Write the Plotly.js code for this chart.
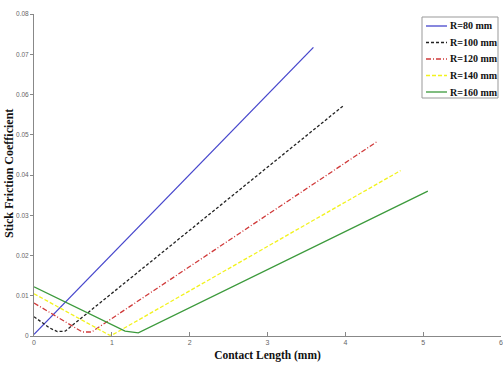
<!DOCTYPE html>
<html>
<head>
<meta charset="utf-8">
<script src="https://cdn.plot.ly/plotly-3.0.1.min.js"></script>
<style>html,body{margin:0;padding:0;background:#fff;}#chart{width:503px;height:367px;}</style>
</head>
<body>
<div id="chart"></div>
<script>
// Data
const seriesNames = ["R=80 mm", "R=100 mm", "R=120 mm", "R=140 mm", "R=160 mm"];
const x80  = [0, 3.59];
const y80  = [0.0004, 0.0717];
const x100 = [0, 0.1, 0.2, 0.3, 0.4, 3.98];
const y100 = [0.0048, 0.0033, 0.0020, 0.0011, 0.0012, 0.0573];
const x120 = [0, 0.62, 0.74, 4.40];
const y120 = [0.0082, 0.0010, 0.0010, 0.0482];
const x140 = [0, 0.97, 1.00, 4.71];
const y140 = [0.0105, 0.0002, 0.0002, 0.0411];
const x160 = [0, 1.17, 1.34, 5.06];
const y160 = [0.0122, 0.0012, 0.0008, 0.0360];
const yTickVals = [0, 0.01, 0.02, 0.03, 0.04, 0.05, 0.06, 0.07, 0.08];
const yTickText = ["0", "0.01", "0.02", "0.03", "0.04", "0.05", "0.06", "0.07", "0.08"];
const xTickVals = [0, 1, 2, 3, 4, 5, 6];
const xTitle = "Contact Length (mm)";
const yTitle = "Stick Friction Coefficient";

const xs = [x80, x100, x120, x140, x160];
const ys = [y80, y100, y120, y140, y160];
const colors = ["#4646cc", "#222222", "#d03a3a", "#f2f21e", "#3c9a3c"];
const dashes = ["solid", "3px,2px", "5px,2px,1px,2px", "4px,2px", "solid"];

const traces = seriesNames.map((n, i) => ({
  x: xs[i], y: ys[i], name: n, type: "scatter", mode: "lines",
  line: {color: colors[i], width: 1.3, dash: dashes[i]}
}));

// Compact legend box (MATLAB-style), placed in paper coordinates
const M = {l: 34, r: 2, t: 14, b: 31}, W = 503, H = 367;
const pw = W - M.l - M.r, ph = H - M.t - M.b;
const px = v => (v - M.l) / pw;
const py = v => (H - M.b - v) / ph;
const legRows = [26, 42.5, 59, 75.5, 92];
const shapes = [{
  type: "rect", xref: "paper", yref: "paper",
  x0: px(422), x1: px(498), y0: py(98), y1: py(17),
  line: {color: "#999", width: 1}, fillcolor: "#fff", layer: "above"
}];
const annotations = [{
  xref: "paper", yref: "paper", x: px(9), y: py(174),
  xanchor: "center", yanchor: "middle", textangle: -90, showarrow: false,
  text: yTitle,
  font: {family: "Liberation Serif", size: 12, color: "#111", weight: "bold"}
}];
seriesNames.forEach((n, i) => {
  shapes.push({
    type: "line", xref: "paper", yref: "paper", layer: "above",
    x0: px(426), x1: px(447), y0: py(legRows[i]), y1: py(legRows[i]),
    line: {color: colors[i], width: 1.3, dash: dashes[i]}
  });
  annotations.push({
    xref: "paper", yref: "paper", x: px(447.5), y: py(legRows[i]),
    xanchor: "left", yanchor: "middle", showarrow: false, text: n,
    font: {family: "Liberation Serif", size: 10, color: "#111", weight: "bold"}
  });
});

const layout = {
  width: W, height: H, margin: M,
  paper_bgcolor: "#fff", plot_bgcolor: "#fff",
  showlegend: false, shapes: shapes, annotations: annotations,
  xaxis: {
    range: [0, 6], tickvals: xTickVals, ticks: "inside", ticklen: 4,
    tickcolor: "#888", showgrid: false, zeroline: false,
    showline: true, linecolor: "#888", linewidth: 1,
    ticklabeloverflow: "allow",
    tickfont: {family: "Liberation Sans", size: 7, color: "#666"},
    title: {text: xTitle, standoff: 5,
      font: {family: "Liberation Serif", size: 11.5, color: "#111", weight: "bold"}}
  },
  yaxis: {
    range: [0, 0.08], tickvals: yTickVals, ticktext: yTickText,
    ticks: "outside", ticklen: 3, tickcolor: "#888",
    showgrid: false, zeroline: false,
    showline: true, linecolor: "#888", linewidth: 1,
    tickfont: {family: "Liberation Sans", size: 6.5, color: "#666"}
  }
};

Plotly.newPlot("chart", traces, layout, {displayModeBar: false, staticPlot: true});
</script>
</body>
</html>
